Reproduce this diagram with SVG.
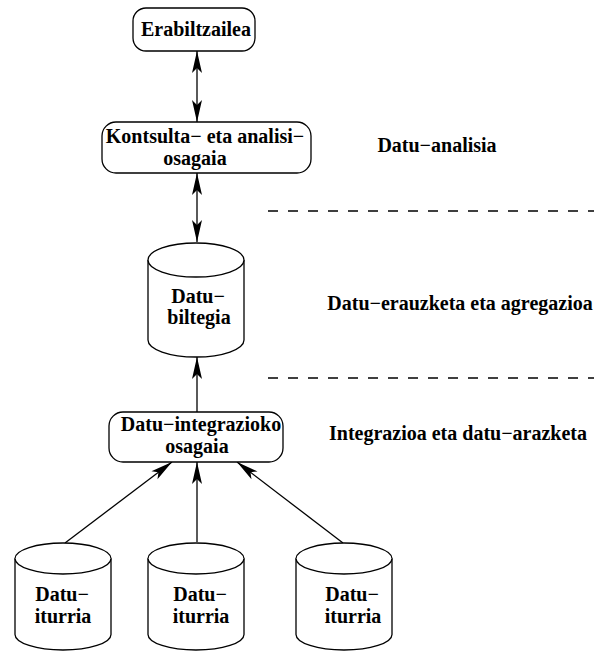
<svg xmlns="http://www.w3.org/2000/svg" width="594" height="652" viewBox="0 0 594 652">
  <style>
    .box { fill: #fff; stroke: #000; stroke-width: 1.3; }
    .cyl { fill: #fff; stroke: #000; stroke-width: 1.3; }
    .lbl { font-family: "Liberation Serif", "Times New Roman", serif; font-weight: bold; font-size: 20px; fill: #000; text-anchor: middle; }
    .edge { stroke: #000; stroke-width: 1.3; fill: none; }
    .sep { stroke: #000; stroke-width: 1.3; stroke-dasharray: 10 10; fill: none; }
  </style>
  <defs>
    <marker id="head" markerUnits="userSpaceOnUse" markerWidth="30" markerHeight="16" viewBox="-24 -8 26 16" refX="0" refY="0" orient="auto-start-reverse">
      <path d="M0,0 L-22,-5 L-17,0 L-22,5 Z" fill="#000"/>
    </marker>
  </defs>

  <rect width="594" height="652" fill="#fff"/>

  <!-- layer separators and layer names -->
  <g id="layers">
    <line class="sep" x1="268" y1="211" x2="594" y2="211"/>
    <line class="sep" x1="268" y1="378" x2="594" y2="378"/>
    <text class="lbl" x="437" y="152">Datu−analisia</text>
    <text class="lbl" x="460" y="310">Datu−erauzketa eta agregazioa</text>
    <text class="lbl" x="458" y="440">Integrazioa eta datu−arazketa</text>
  </g>

  <!-- connectors -->
  <g id="connectors">
    <line class="edge" x1="197" y1="51" x2="197" y2="122" marker-start="url(#head)" marker-end="url(#head)"/>
    <line class="edge" x1="197" y1="173" x2="197" y2="242" marker-start="url(#head)" marker-end="url(#head)"/>
    <line class="edge" x1="197" y1="412" x2="197" y2="357" marker-end="url(#head)"/>
    <line class="edge" x1="65" y1="543" x2="172" y2="462" marker-end="url(#head)"/>
    <line class="edge" x1="197" y1="542" x2="197" y2="462" marker-end="url(#head)"/>
    <line class="edge" x1="343" y1="543" x2="237" y2="462" marker-end="url(#head)"/>
  </g>

  <g id="erabiltzailea">
    <rect class="box" x="133" y="8" width="122" height="43" rx="13"/>
    <text class="lbl" x="196" y="36">Erabiltzailea</text>
  </g>

  <g id="kontsulta">
    <rect class="box" x="102" y="122" width="209" height="51" rx="14"/>
    <text class="lbl" x="205" y="143">Kontsulta− eta analisi−</text>
    <text class="lbl" x="195" y="165">osagaia</text>
  </g>

  <g id="biltegia">
    <path class="cyl" d="M148,260 A48,17 0 0 1 244,260 L244,340 A48,17 0 0 1 148,340 Z"/>
    <path class="cyl" d="M148,260 A48,17 0 0 0 244,260"/>
    <text class="lbl" x="198" y="303">Datu−</text>
    <text class="lbl" x="199" y="324">biltegia</text>
  </g>

  <g id="integrazioa">
    <rect class="box" x="109" y="412" width="174" height="50" rx="14"/>
    <text class="lbl" x="201" y="431">Datu−integrazioko</text>
    <text class="lbl" x="197" y="453">osagaia</text>
  </g>

  <g id="iturria1">
    <path class="cyl" d="M15,558.5 A48,15.5 0 0 1 111,558.5 L111,634.5 A48,15.5 0 0 1 15,634.5 Z"/>
    <path class="cyl" d="M15,558.5 A48,15.5 0 0 0 111,558.5"/>
    <text class="lbl" x="62" y="601">Datu−</text>
    <text class="lbl" x="63" y="623">iturria</text>
  </g>

  <g id="iturria2">
    <path class="cyl" d="M148,558.5 A48,15.5 0 0 1 244,558.5 L244,634.5 A48,15.5 0 0 1 148,634.5 Z"/>
    <path class="cyl" d="M148,558.5 A48,15.5 0 0 0 244,558.5"/>
    <text class="lbl" x="200" y="601">Datu−</text>
    <text class="lbl" x="201" y="623">iturria</text>
  </g>

  <g id="iturria3">
    <path class="cyl" d="M296,558.5 A48,15.5 0 0 1 392,558.5 L392,634.5 A48,15.5 0 0 1 296,634.5 Z"/>
    <path class="cyl" d="M296,558.5 A48,15.5 0 0 0 392,558.5"/>
    <text class="lbl" x="352" y="601">Datu−</text>
    <text class="lbl" x="353" y="623">iturria</text>
  </g>
</svg>
